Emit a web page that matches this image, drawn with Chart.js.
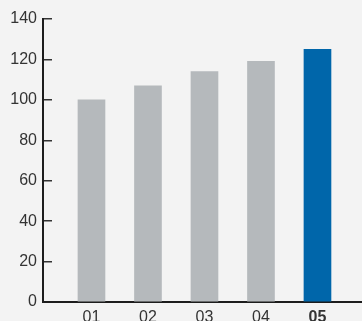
<!DOCTYPE html>
<html>
<head>
<meta charset="utf-8">
<script src="https://cdn.jsdelivr.net/npm/chart.js@4/dist/chart.umd.min.js"></script>
<style>
  html, body { margin: 0; padding: 0; background: #f3f3f3; overflow: hidden; }
  #wrap { width: 362px; height: 321px; }
</style>
</head>
<body>
<div id="wrap"><canvas id="chart" width="362" height="321"></canvas></div>
<script>
// values
const categories = ["01", "02", "03", "04", "05"];
const values = [100, 107, 114, 119, 125];
const yTicks = [0, 20, 40, 60, 80, 100, 120, 140];
const highlight = "05";

const barColors = categories.map((c) => (c === highlight ? "#0066aa" : "#b5b9bc"));
const axisColor = "#1c1c1c";
const fontFamily = "'Liberation Sans', Arial, sans-serif";

const ctx = document.getElementById("chart");

new Chart(ctx, {
  type: "bar",
  data: {
    datasets: [
      {
        data: categories.map((c, i) => ({ x: i + 1, y: values[i] })),
        backgroundColor: barColors,
        barThickness: 27,
        borderWidth: 0,
      },
    ],
  },
  options: {
    responsive: false,
    animation: false,
    layout: { padding: { top: 19, right: 0, left: 0, bottom: 0 } },
    plugins: {
      legend: { display: false },
      tooltip: { enabled: false },
    },
    scales: {
      x: {
        type: "linear",
        offset: false,
        min: 0.142,
        max: 5.788,
        afterBuildTicks: (s) => {
          s.ticks = categories.map((c, i) => ({ value: i + 1 }));
        },
        afterFit: (s) => {
          s.height = 19;
          s.paddingLeft = 0;
          s.paddingRight = 0;
        },
        grid: { display: false, drawTicks: false, offset: false },
        border: { display: true, color: axisColor, width: 2 },
        ticks: {
          padding: 6,
          color: "#333333",
          autoSkip: false,
          maxRotation: 0,
          callback: (v) => categories[v - 1] || "",
          font: (c) => ({
            family: fontFamily,
            size: 16,
            weight: categories[c.index] === highlight ? "bold" : "normal",
          }),
        },
      },
      y: {
        min: 0,
        max: 140,
        afterBuildTicks: (s) => {
          s.ticks = yTicks.map((v) => ({ value: v }));
        },
        afterFit: (s) => {
          s.width = 43;
          s.paddingTop = 0;
          s.paddingBottom = 0;
        },
        grid: {
          drawOnChartArea: false,
          color: "#333333",
          lineWidth: 1.5,
          tickLength: -9,
        },
        border: { display: true, color: axisColor, width: 2 },
        ticks: {
          padding: 15,
          color: "#333333",
          font: { family: fontFamily, size: 16 },
        },
      },
    },
  },
});
</script>
</body>
</html>
